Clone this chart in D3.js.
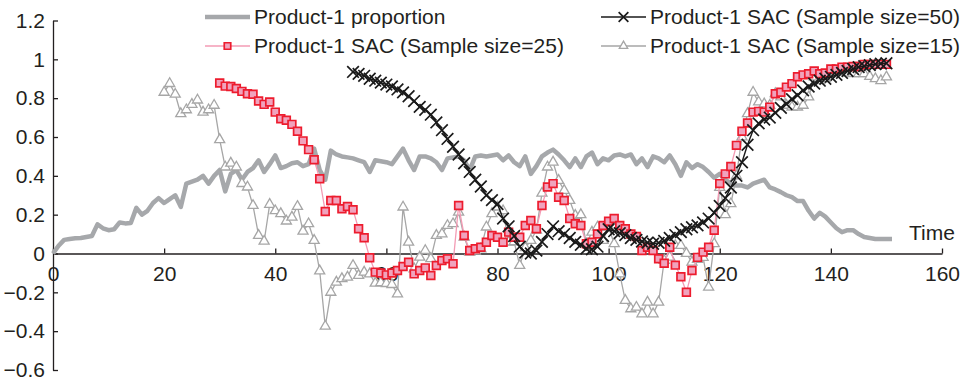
<!DOCTYPE html>
<html>
<head>
<meta charset="utf-8">
<script src="https://cdn.jsdelivr.net/npm/d3@7"></script>
<style>
  body { margin: 0; background: #fff; }
  svg { display: block; }
  text { font-family: "Liberation Sans", Arial, Helvetica, sans-serif; fill: #231f20; }
</style>
</head>
<body>
<svg id="chart" width="969" height="382"></svg>
<script>
// Product-1 share over time and its SAC estimates for three sample sizes
const proportionStart = 0;
const proportion = [
  0, 0.04, 0.07, 0.075, 0.078, 0.08, 0.085, 0.09, 0.15, 0.13,
  0.12, 0.125, 0.16, 0.155, 0.157, 0.235, 0.2, 0.22, 0.26, 0.285,
  0.26, 0.28, 0.30, 0.24, 0.36, 0.37, 0.38, 0.40, 0.36, 0.40,
  0.43, 0.32, 0.41, 0.43, 0.38, 0.42, 0.44, 0.48, 0.42, 0.46,
  0.505, 0.44, 0.45, 0.465, 0.47, 0.45, 0.46, 0.54, 0.43, 0.38,
  0.53, 0.51, 0.50, 0.495, 0.49, 0.48, 0.47, 0.42, 0.48, 0.475,
  0.47, 0.46, 0.50, 0.54, 0.48, 0.43, 0.50, 0.50, 0.49, 0.47,
  0.43, 0.49, 0.495, 0.50, 0.48, 0.43, 0.50, 0.505, 0.50, 0.505,
  0.51, 0.48, 0.505, 0.47, 0.45, 0.50, 0.41, 0.45, 0.50, 0.52,
  0.535, 0.51, 0.48, 0.445, 0.49, 0.445, 0.50, 0.52, 0.46, 0.49,
  0.48, 0.505, 0.51, 0.50, 0.51, 0.46, 0.49, 0.445, 0.50, 0.49,
  0.47, 0.505, 0.46, 0.40, 0.47, 0.44, 0.46, 0.445, 0.42, 0.39,
  0.41, 0.38, 0.36, 0.35, 0.35, 0.34, 0.36, 0.37, 0.38, 0.34,
  0.33, 0.316, 0.30, 0.29, 0.27, 0.27, 0.22, 0.18, 0.21, 0.19,
  0.16, 0.13, 0.11, 0.12, 0.12, 0.10, 0.085, 0.08, 0.075, 0.075,
  0.075, 0.075
];

const sac50Start = 54;
const sac50 = [
  0.935, 0.925, 0.915, 0.90, 0.89, 0.88,
  0.87, 0.86, 0.845, 0.83, 0.81, 0.785, 0.755, 0.74, 0.715, 0.675,
  0.635, 0.59, 0.55, 0.51, 0.465, 0.42, 0.38, 0.345, 0.30, 0.275,
  0.255, 0.18, 0.14, 0.09, 0.035, 0.005, 0.0, 0.015, 0.06, 0.10,
  0.14, 0.115, 0.10, 0.08, 0.06, 0.045, 0.025, 0.022, 0.035, 0.09,
  0.125, 0.115, 0.105, 0.095, 0.08, 0.07, 0.062, 0.056, 0.05, 0.055,
  0.065, 0.08, 0.095, 0.11, 0.125, 0.135, 0.145, 0.16, 0.18, 0.21,
  0.245, 0.285, 0.34, 0.40, 0.47, 0.56, 0.635, 0.67, 0.69, 0.70,
  0.725, 0.75, 0.77, 0.795, 0.815, 0.84, 0.86, 0.875, 0.89, 0.90,
  0.91, 0.92, 0.93, 0.94, 0.95, 0.96, 0.965, 0.97, 0.975, 0.978,
  0.98
];

const sac25Start = 30;
const sac25 = [
  0.878, 0.862, 0.86, 0.85, 0.835, 0.823, 0.82, 0.785, 0.768, 0.78,
  0.728, 0.694, 0.686, 0.665, 0.63, 0.58, 0.535, 0.483, 0.385, 0.216,
  0.273, 0.273, 0.23, 0.242, 0.225, 0.127, 0.081, -0.022, -0.096, -0.1,
  -0.11, -0.1, -0.088, -0.067, -0.045, -0.105, -0.088, -0.074, -0.113, -0.062,
  -0.036, -0.027, -0.053, 0.247, 0.093, 0.015, 0.024, 0.032, 0.058, 0.093,
  0.084, 0.058, 0.11, 0.084, 0.084, 0.144, 0.17, 0.127, 0.247, 0.342,
  0.36, 0.29, 0.273, 0.18, 0.153, 0.144, 0.05, 0.058, 0.10, 0.144,
  0.166, 0.18, 0.144, 0.127, 0.10, 0.088, 0.015, 0.032, 0.015, -0.027,
  -0.05, 0.032, -0.06, -0.12, -0.2, -0.088, -0.02, 0.007, 0.032, 0.12,
  0.36, 0.41, 0.448, 0.557, 0.63, 0.672, 0.728, 0.732, 0.728, 0.754,
  0.823, 0.83, 0.857, 0.875, 0.91, 0.92, 0.926, 0.94, 0.926, 0.93,
  0.95, 0.95, 0.96, 0.96, 0.963, 0.963, 0.974, 0.974, 0.974, 0.974,
  0.974
];

const sac15Start = 20;
const sac15 = [
  0.83, 0.875, 0.82, 0.72, 0.74, 0.768, 0.79, 0.728, 0.74, 0.763,
  0.586, 0.445, 0.465, 0.445, 0.36, 0.342, 0.247, 0.093, 0.063, 0.253,
  0.22, 0.205, 0.167, 0.187, 0.242, 0.115, 0.153, 0.067, -0.09, -0.375,
  -0.2, -0.148, -0.13, -0.122, -0.062, -0.113, -0.096, -0.105, -0.153, -0.15,
  -0.155, -0.16, -0.208, 0.239, 0.058, -0.079, -0.019, 0.015, -0.027, 0.093,
  0.101, 0.144, 0.153, 0.213, 0.084, 0.007, 0.012, 0.024, 0.136, 0.205,
  0.239, 0.22, 0.058, 0.06, -0.062, 0.03, 0.067, 0.12, 0.31, 0.445,
  0.47, 0.376, 0.325, 0.273, 0.196, 0.20, 0.05, 0.11, 0.136, 0.067,
  0.136, 0.05, -0.105, -0.242, -0.285, -0.277, -0.311, -0.251, -0.311, -0.251,
  -0.036, -0.019, 0.041, 0.041, 0.0, -0.045, -0.03, -0.02, -0.174, 0.05,
  0.34, 0.2, 0.256, 0.40, 0.6, 0.72, 0.83, 0.78, 0.77, 0.763,
  0.823, 0.806, 0.763, 0.754, 0.754, 0.763, 0.806, 0.909, 0.89, 0.9,
  0.926, 0.935, 0.935, 0.93, 0.926, 0.926, 0.926, 0.912, 0.9, 0.89,
  0.909
];

const xTicks = [0, 20, 40, 60, 80, 100, 120, 140, 160];
const yTicks = [-0.6, -0.4, -0.2, 0, 0.2, 0.4, 0.6, 0.8, 1, 1.2];
const yTickLabels = ["\u22120.6", "\u22120.4", "\u22120.2", "0", "0.2", "0.4", "0.6", "0.8", "1", "1.2"];
const seriesNames = [
  "Product-1 proportion",
  "Product-1 SAC (Sample size=50)",
  "Product-1 SAC (Sample size=25)",
  "Product-1 SAC (Sample size=15)"
];
const xAxisTitle = "Time";

const svg = d3.select("#chart");
const x = d3.scaleLinear().domain([0, 160]).range([53, 942]);
const y = d3.scaleLinear().domain([-0.6, 1.2]).range([370, 20.5]);
const FONT = 21;
const AXIS_COLOR = "#231f20";

const toPoints = (start, arr) => arr.map((v, i) => ({ t: start + i, v }));
const line = d3.line().x(d => x(d.t)).y(d => y(d.v));

const styles = {
  prop: { stroke: "#a6a8ab", width: 4.5 },
  s50:  { stroke: "#1a1a1a", width: 1.4, marker: d3.symbolX, size: 90, mStroke: "#1a1a1a", mFill: "none", mWidth: 1.7 },
  s25:  { stroke: "#f39bb4", width: 1.3, marker: d3.symbolSquare, size: 60, mStroke: "#ed1c2e", mFill: "#f0a3bd", mWidth: 1.7 },
  s15:  { stroke: "#a6a6a6", width: 1.3, marker: d3.symbolTriangle, size: 44, mStroke: "#a6a6a6", mFill: "#ffffff", mWidth: 1.3 }
};

// Axes: ticks point inward, labels outside
const yAxis = d3.axisLeft(y)
  .tickValues(yTicks)
  .tickFormat((d, i) => yTickLabels[i])
  .tickSizeInner(-5)
  .tickSizeOuter(0)
  .tickPadding(8);
const gy = svg.append("g").attr("transform", `translate(${x(0)},0)`).call(yAxis);

const xAxis = d3.axisBottom(x)
  .tickValues(xTicks)
  .tickFormat(d3.format("d"))
  .tickSizeInner(-5)
  .tickSizeOuter(0)
  .tickPadding(13);
const gx = svg.append("g").attr("transform", `translate(0,${y(0)})`).call(xAxis);

[gx, gy].forEach(g => {
  g.select(".domain").attr("stroke", AXIS_COLOR).attr("stroke-width", 1.3);
  g.selectAll(".tick line").attr("stroke", AXIS_COLOR).attr("stroke-width", 1.3);
  g.selectAll(".tick text").attr("font-size", FONT).attr("fill", AXIS_COLOR)
    .style("font-family", '"Liberation Sans", Arial, sans-serif');
});

svg.append("text")
  .attr("x", 909).attr("y", 240)
  .attr("font-size", FONT)
  .text(xAxisTitle);

// Series
const plot = svg.append("g");
function drawSeries(points, st, withMarkers) {
  plot.append("path")
    .datum(points)
    .attr("fill", "none")
    .attr("stroke", st.stroke)
    .attr("stroke-width", st.width)
    .attr("stroke-linejoin", "round")
    .attr("d", line);
  if (withMarkers) {
    plot.append("g").selectAll("path")
      .data(points)
      .join("path")
      .attr("transform", d => `translate(${x(d.t)},${y(d.v)})`)
      .attr("d", d3.symbol().type(st.marker).size(st.size))
      .attr("fill", st.mFill)
      .attr("stroke", st.mStroke)
      .attr("stroke-width", st.mWidth);
  }
}
drawSeries(toPoints(proportionStart, proportion), styles.prop, false);
drawSeries(toPoints(sac15Start, sac15), styles.s15, true);
drawSeries(toPoints(sac25Start, sac25), styles.s25, true);
drawSeries(toPoints(sac50Start, sac50), styles.s50, true);

// Legend: two rows, two columns
const legendItems = [
  { name: seriesNames[0], st: styles.prop, lx: 205, ty: 17, marker: false },
  { name: seriesNames[1], st: styles.s50, lx: 601, ty: 17, marker: true },
  { name: seriesNames[2], st: styles.s25, lx: 205, ty: 46, marker: true },
  { name: seriesNames[3], st: styles.s15, lx: 601, ty: 46, marker: true }
];
const lg = svg.append("g");
legendItems.forEach(it => {
  const g = lg.append("g").attr("transform", `translate(${it.lx},${it.ty})`);
  g.append("line").attr("x1", 0).attr("x2", 45).attr("y1", 0).attr("y2", 0)
    .attr("stroke", it.st.stroke).attr("stroke-width", it.st.width);
  if (it.marker) {
    g.append("path")
      .attr("transform", "translate(22.5,0)")
      .attr("d", d3.symbol().type(it.st.marker).size(it.st.size * 0.7))
      .attr("fill", it.st.mFill).attr("stroke", it.st.mStroke).attr("stroke-width", it.st.mWidth);
  }
  g.append("text").attr("x", 49).attr("y", 0).attr("dy", "0.35em")
    .attr("font-size", FONT).text(it.name);
});
</script>
</body>
</html>
